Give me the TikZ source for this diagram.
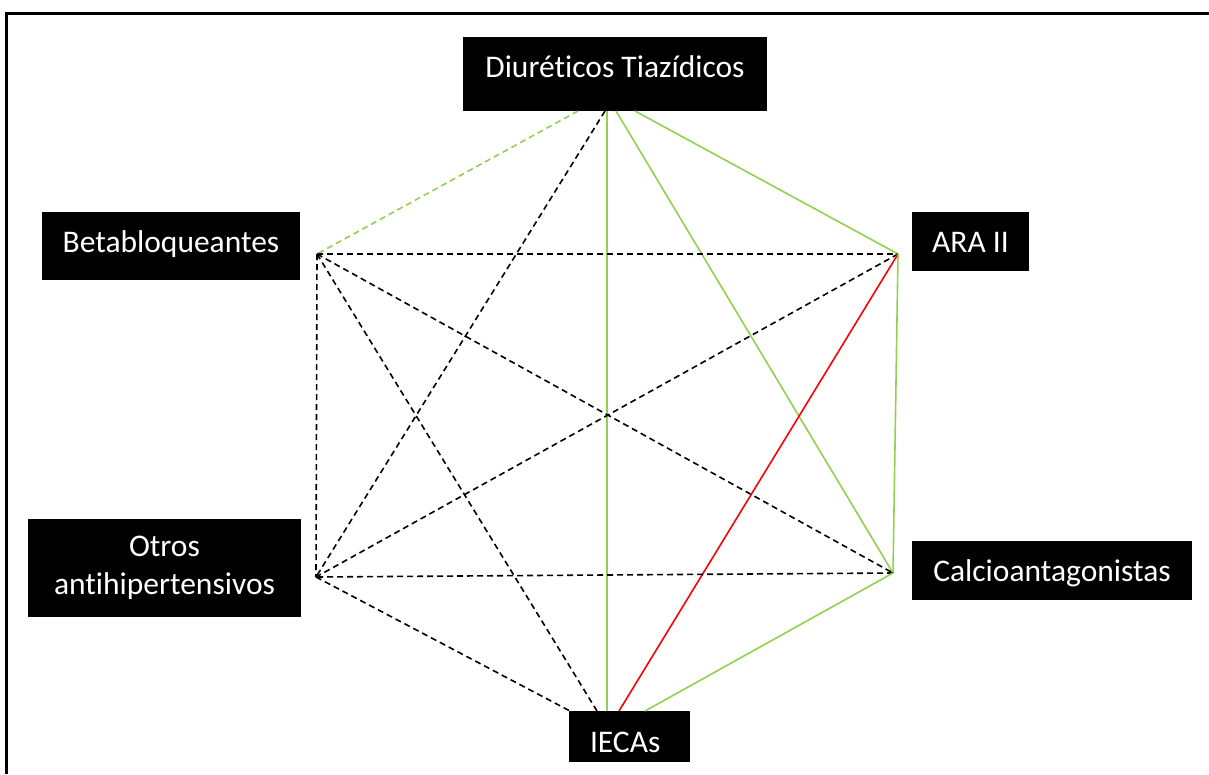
\documentclass[tikz,border=0pt]{standalone}
\usepackage{fontspec}
\setmainfont[RawFeature={-liga;-clig;-calt;-dlig}]{Carlito}
\definecolor{lgreen}{RGB}{146,208,80}
\definecolor{lred}{RGB}{255,0,0}
\tikzset{
  box/.style={fill=black, text=white, inner sep=0pt, font=\fontsize{31.5}{38}\selectfont},
  gline/.style={draw=lgreen, line width=1.6pt},
  gdash/.style={draw=lgreen, line width=1.6pt, dash pattern=on 6pt off 4pt},
  bdash/.style={draw=black, line width=1.6pt, dash pattern=on 6pt off 4pt},
  rline/.style={draw=lred, line width=1.6pt},
  frameline/.style={draw=black, line width=2.5pt}
}
\begin{document}
\begin{tikzpicture}[x=1pt,y=-1pt]
\useasboundingbox (0,0) rectangle (1209,774);
% frame
\coordinate (fb) at (6.7,774);
\coordinate (fc) at (6.7,13.5);
\coordinate (fr) at (1209,13.5);
\draw[frameline] (fb) -- (fc) -- (fr);

% boxes
\node[box, minimum width=304pt, minimum height=74pt, text height=20pt, text depth=14pt] (diu) at (615,74) {Diuréticos Tiazídicos};
\node[box, minimum width=258pt, minimum height=68pt, text height=20pt, text depth=8pt] (beta) at (171,246) {Betabloqueantes};
\node[box, minimum width=117pt, minimum height=59pt, text height=22pt, text depth=0pt] (ara) at (970.5,241) {ARA II};
\node[box, minimum width=280pt, minimum height=59pt, text height=22pt, text depth=0pt] (calc) at (1052,570.5) {Calcioantagonistas};
\node[box, minimum width=273pt, minimum height=98pt, align=center] (otros) at (164.5,568) {Otros\\antihipertensivos};
\node[box, minimum width=121pt, minimum height=51pt, text height=31pt, text depth=0pt, text width=79pt, align=left] (iecas) at (629.5,736.5) {IECAs};

% vertices
\coordinate (B) at (317,254);
\coordinate (A) at (898,254);
\coordinate (C) at (893,573);
\coordinate (O) at (316,577);
% ends on Diureticos
\coordinate (d1) at (578,111);
\coordinate (d2) at (605,111);
\coordinate (d3) at (607,111);
\coordinate (d4) at (616,111);
\coordinate (d5) at (635,111);
% ends on IECAs
\coordinate (e1) at (570,711);
\coordinate (e2) at (597,711);
\coordinate (e3) at (607,711);
\coordinate (e4) at (619,711);
\coordinate (e5) at (645,711);

% connectors
\draw[gdash] (d1) -- (B);
\draw[bdash] (d2) -- (O);
\draw[gline] (d3) -- (e3);
\draw[gline] (d4) -- (C);
\draw[gline] (d5) -- (A);
\draw[bdash] (B) -- (A);
\draw[bdash] (B) -- (C);
\draw[bdash] (B) -- (O);
\draw[bdash] (B) -- (e2);
\draw[bdash] (A) -- (O);
\draw[rline] (A) -- (e4);
\draw[gline] (A) -- (C);
\draw[bdash] (C) -- (O);
\draw[gline] (C) -- (e5);
\draw[bdash] (O) -- (e1);
\end{tikzpicture}
\end{document}
